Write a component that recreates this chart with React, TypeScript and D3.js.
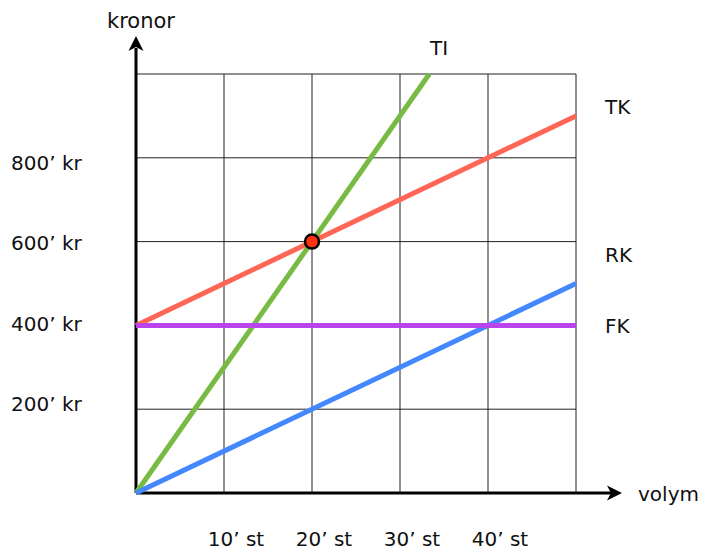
import React from 'react';
import * as d3 from 'd3';

// volym in thousands of units, kronor in thousands
const xTicks = [10, 20, 30, 40];
const xTickLabels = ['10’ st', '20’ st', '30’ st', '40’ st'];
const yTicks = [200, 400, 600, 800];
const yTickLabels = ['200’ kr', '400’ kr', '600’ kr', '800’ kr'];
const gridX = [0, 10, 20, 30, 40, 50];
const gridY = [0, 200, 400, 600, 800, 1000];

const seriesNames = ['TI', 'TK', 'RK', 'FK'];
const seriesColors = ['#77bb44', '#ff6655', '#4488ff', '#bb44ee'];
const seriesPoints: [number, number][][] = [
	[[0, 0], [33.33, 1000]],
	[[0, 400], [50, 900]],
	[[0, 0], [50, 500]],
	[[0, 400], [50, 400]],
];
const breakEven: [number, number] = [20, 600];

const font = 'Verdana, "DejaVu Sans", sans-serif';

const App: React.FC = () => {
	const x = d3.scaleLinear().domain([0, 50]).range([136, 576]);
	const y = d3.scaleLinear().domain([0, 1000]).range([493, 74]);
	// tick labels sit slightly off the grid lines in the original
	const yLabel = d3.scaleLinear().domain([200, 800]).range([403, 162]);
	const line = d3
		.line<[number, number]>()
		.x((d) => x(d[0]))
		.y((d) => y(d[1]));

	// label positions next to line ends
	const labelPos: [number, number][] = [
		[430, 55],
		[605, 114],
		[605, 262],
		[605, 333],
	];

	const x0 = x(0);
	const y0 = y(0);
	const arrow = (tx: number, ty: number, dir: 'up' | 'right') =>
		dir === 'up'
			? `M${tx},${ty} L${tx + 7.5},${ty + 15} L${tx},${ty + 11} L${tx - 7.5},${ty + 15} Z`
			: `M${tx},${ty} L${tx - 15},${ty - 7.5} L${tx - 11},${ty} L${tx - 15},${ty + 7.5} Z`;

	return (
		<svg
			width={704}
			height={551}
			style={{ position: 'absolute', left: 0, top: 0, background: '#fff' }}
			fontFamily={font}>
			{/* grid */}
			{gridX.map((v) => (
				<line
					key={'gx' + v}
					x1={x(v)}
					x2={x(v)}
					y1={y(0)}
					y2={y(1000)}
					stroke='#222'
					strokeWidth={1}
				/>
			))}
			{gridY.map((v) => (
				<line
					key={'gy' + v}
					x1={x(0)}
					x2={x(50)}
					y1={y(v)}
					y2={y(v)}
					stroke='#222'
					strokeWidth={1}
				/>
			))}
			{/* axes */}
			<line x1={x0} x2={x0} y1={y0} y2={48} stroke='#000' strokeWidth={3} />
			<path d={arrow(x0, 36, 'up')} fill='#000' />
			<line x1={x0} x2={611} y1={y0} y2={y0} stroke='#000' strokeWidth={3} />
			<path d={arrow(622, y0, 'right')} fill='#000' />
			<text x={107} y={28} fontSize={21} fill='#111'>
				kronor
			</text>
			<text x={638} y={501} fontSize={20} fill='#111'>
				volym
			</text>
			{/* series */}
			{seriesPoints.map((pts, i) => (
				<path
					key={seriesNames[i]}
					d={line(pts) ?? ''}
					fill='none'
					stroke={seriesColors[i]}
					strokeWidth={5}
				/>
			))}
			<circle
				cx={x(breakEven[0])}
				cy={y(breakEven[1])}
				r={7}
				fill='#ff3311'
				stroke='#000'
				strokeWidth={2.5}
			/>
			{seriesNames.map((n, i) => (
				<text key={'l' + n} x={labelPos[i][0]} y={labelPos[i][1]} fontSize={20} fill='#111'>
					{n}
				</text>
			))}
			{/* tick labels */}
			{xTicks.map((v, i) => (
				<text
					key={'xt' + v}
					x={x(v) + 12}
					y={546}
					fontSize={20}
					textAnchor='middle'
					fill='#111'>
					{xTickLabels[i]}
				</text>
			))}
			{yTicks.map((v, i) => (
				<text key={'yt' + v} x={11} y={yLabel(v) + 8} fontSize={20} fill='#111'>
					{yTickLabels[i]}
				</text>
			))}
		</svg>
	);
};

export default App;
